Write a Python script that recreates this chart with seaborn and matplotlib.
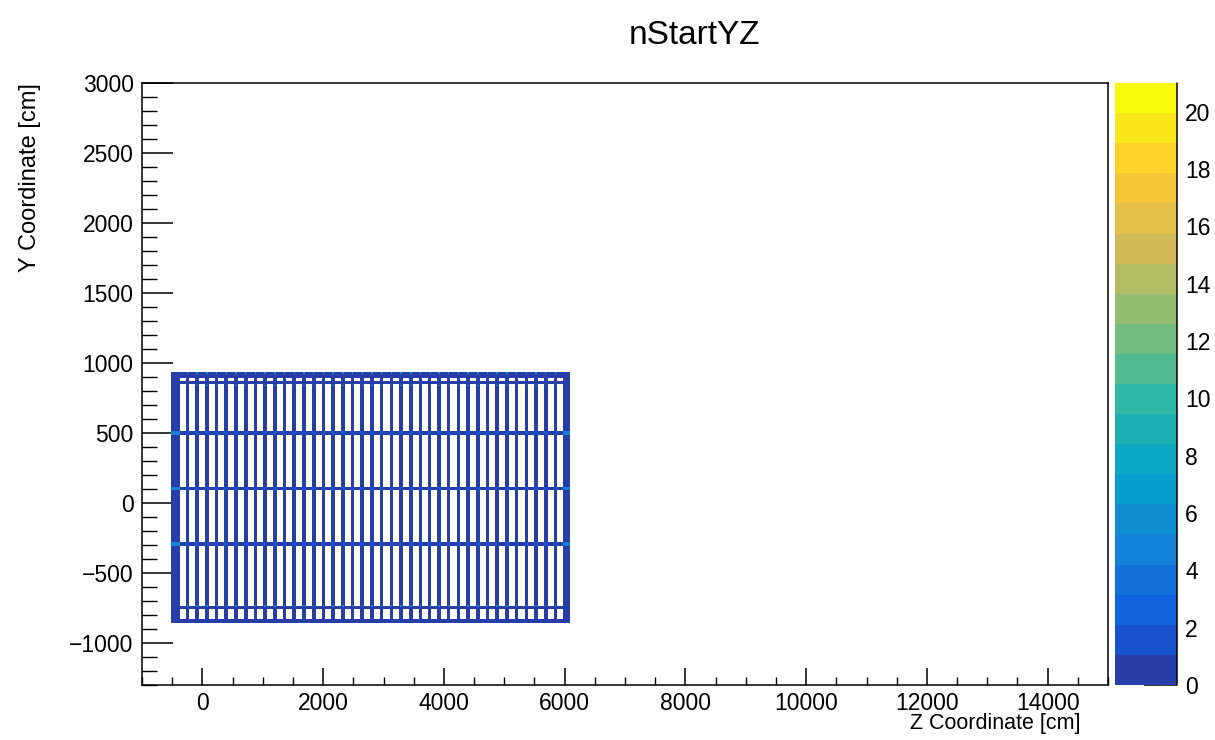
import numpy as np
import pandas as pd
import matplotlib
matplotlib.use("Agg")
import matplotlib.pyplot as plt
import seaborn as sns
from matplotlib.colors import ListedColormap, LinearSegmentedColormap
from matplotlib.ticker import MultipleLocator

# ---------------- text ----------------
title = "nStartYZ"
x_label = "Z Coordinate [cm]"
y_label = "Y Coordinate [cm]"

# ---------------- geometry (cm) ----------------
strip_z = [-240, -80, 80, 241, 401, 561, 721, 882, 1042, 1202, 1362, 1522, 1683,
           1843, 2003, 2163, 2324, 2484, 2644, 2804, 2964, 3125, 3285, 3445, 3605,
           3766, 3926, 4086, 4246, 4406, 4567, 4727, 4887, 5047, 5208, 5368, 5528,
           5688, 5848]
strip_half_width = 30
row_y = [500, 105, -290]
row_half_width = 13
frame_left = (-510, -365)
frame_right = (5980, 6095)
frame_top = (850, 935)
frame_bottom = (-857, -736)
top_holes = (870, 895)
bottom_holes = (-829, -757)
top_dot_y = [930, 840]
bottom_dot_y = [-740]

# counts per bin
count_fill = 1
count_cross = 2
count_edge_cross = 5
count_top_dot = 6
count_bottom_dot = 5

# colour-bar range / ticks
z_min, z_max = 0, 21
n_levels = 20
cbar_ticks = [0, 2, 4, 6, 8, 10, 12, 14, 16, 18, 20]

# ROOT kBird palette stops
bird_stops = [0.0, 0.125, 0.25, 0.375, 0.5, 0.625, 0.75, 0.875, 1.0]
bird_r = [0.2082, 0.0592, 0.0780, 0.0232, 0.1802, 0.5301, 0.8186, 0.9956, 0.9764]
bird_g = [0.1664, 0.3599, 0.5041, 0.6419, 0.7178, 0.7492, 0.7328, 0.7862, 0.9832]
bird_b = [0.5293, 0.8684, 0.8385, 0.7914, 0.6425, 0.4662, 0.3499, 0.1968, 0.0539]

# ---------------- build histogram contents ----------------
z_bin, y_bin = 16.5, 7.0
z_edges = np.arange(-528, 6130, z_bin)
y_edges = np.arange(-871, 952, y_bin)
zc = 0.5 * (z_edges[:-1] + z_edges[1:])
yc = 0.5 * (y_edges[:-1] + y_edges[1:])
Z, Y = np.meshgrid(zc, yc, indexing="ij")
counts = np.zeros_like(Z)

def between(a, lo, hi):
    return (a >= lo) & (a <= hi)

in_z = between(Z, frame_left[0], frame_right[1])
in_y = between(Y, frame_bottom[0], frame_top[1])
inner_z = between(Z, frame_left[1], frame_right[0])

on_strip = np.zeros_like(Z, dtype=bool)
for s in strip_z:
    on_strip |= np.abs(Z - s) <= strip_half_width
on_row = np.zeros_like(Z, dtype=bool)
for r in row_y:
    on_row |= np.abs(Y - r) <= row_half_width

side = (between(Z, *frame_left) | between(Z, *frame_right)) & in_y
topb = between(Y, *frame_top) & in_z
botb = between(Y, *frame_bottom) & in_z
counts[side | topb | botb] = count_fill
counts[(between(Y, *top_holes) | between(Y, *bottom_holes)) & inner_z & ~on_strip] = 0
counts[on_strip & in_y] = count_fill
counts[on_row & in_z] = count_fill
counts[on_row & on_strip] = count_cross
counts[on_row & side] = count_edge_cross
for s in strip_z:
    for ty in top_dot_y:
        counts[(np.abs(Z - s) <= 12) & (np.abs(Y - ty) <= 6)] = count_top_dot
    for by in bottom_dot_y:
        counts[(np.abs(Z - s) <= 12) & (np.abs(Y - by) <= 6)] = count_bottom_dot

df = pd.DataFrame({"z": Z.ravel(), "y": Y.ravel(), "n": counts.ravel()})
df = df[df["n"] > 0]

# palette
bird = LinearSegmentedColormap.from_list(
    "bird", list(zip(bird_stops, zip(bird_r, bird_g, bird_b))), N=255)
level_colors = [bird(min((i + 0.99) / n_levels, 1.0)) for i in range(n_levels)]
cmap = ListedColormap(level_colors)

# ---------------- figure ----------------
sns.set_style("white")
plt.rcParams["font.family"] = ["Liberation Sans", "DejaVu Sans"]
plt.rcParams["text.color"] = "black"
plt.rcParams["xtick.color"] = "black"
plt.rcParams["ytick.color"] = "black"
plt.rcParams["xtick.labelcolor"] = "black"
plt.rcParams["ytick.labelcolor"] = "black"

W, H = 1215, 740
fig = plt.figure(figsize=(W / 100, H / 100), dpi=100)
fx = lambda px: px / W
fy = lambda py: 1 - py / H
ax = fig.add_axes([fx(142), fy(685), fx(1108) - fx(142), fy(83) - fy(685)])
cax = fig.add_axes([fx(1115), fy(685), fx(1177) - fx(1115), fy(83) - fy(685)])

sns.histplot(data=df, x="z", y="y", weights="n", bins=[z_edges, y_edges],
             cmap=cmap, vmin=z_min, vmax=z_max, cbar=True, cbar_ax=cax, ax=ax)

ax.set_xlim(-1000, 15000)
ax.set_ylim(-1300, 3000)
ax.set_xlabel("")
ax.set_ylabel("")
ax.xaxis.set_major_locator(MultipleLocator(2000))
ax.xaxis.set_minor_locator(MultipleLocator(500))
ax.yaxis.set_major_locator(MultipleLocator(500))
ax.yaxis.set_minor_locator(MultipleLocator(100))
ax.tick_params(axis="x", which="major", direction="in", length=12, width=1.1,
               labelsize=16.5, pad=5, top=False, bottom=True, colors="black")
ax.tick_params(axis="x", which="minor", direction="in", length=6, width=1.0,
               top=False, bottom=True, colors="black")
ax.tick_params(axis="y", which="major", direction="in", length=22, width=1.1,
               labelsize=16.5, pad=6, right=False, left=True, colors="black")
ax.tick_params(axis="y", which="minor", direction="in", length=11, width=1.0,
               right=False, left=True, colors="black")
for sp in ax.spines.values():
    sp.set_visible(True)
    sp.set_color("black")
    sp.set_linewidth(1.1)

# colour bar
cbar = ax.collections[0].colorbar
cbar.set_ticks(cbar_ticks)
cbar.outline.set_visible(False)
cax.yaxis.set_ticks_position("right")
cax.tick_params(axis="y", which="major", direction="in", length=24, width=1.1,
                labelsize=16.5, pad=6, colors="black")
cax.minorticks_off()
cax.plot([1, 1], [0, 1], transform=cax.transAxes, color="black", lw=1.1,
         clip_on=False)

fig.text(fx(694), fy(35), title, ha="center", va="center", fontsize=24, color="black")
fig.text(fx(1080), fy(723), x_label, ha="right", va="center", fontsize=15.5, color="black")
fig.text(fx(30), fy(83), y_label, ha="center", va="top", rotation=90, fontsize=17,
         color="black")

fig.savefig("out.png", dpi=100, facecolor="white")
